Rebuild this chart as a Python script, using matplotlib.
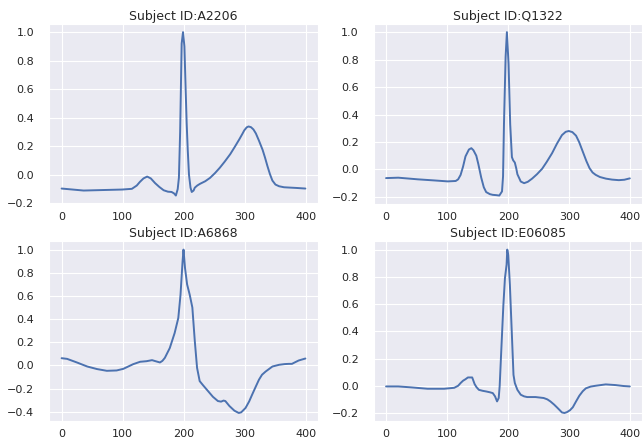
import matplotlib
matplotlib.use("Agg")
import matplotlib.pyplot as plt
import seaborn as sns

sns.set_style("darkgrid")
plt.rcParams['font.family'] = ['DejaVu Sans']

# one heartbeat per subject (sample index, amplitude)
a2206_x = [0, 36, 63, 99, 115, 123, 128, 134, 140, 146, 153, 160, 167, 174, 180, 184, 187,
           190, 192, 194, 196.5, 198.7, 201, 203, 204.7, 206.5, 208.5, 211, 213, 216, 218,
           222, 226.5, 235, 243, 251, 259, 267, 276, 284, 291, 296, 299, 303, 306, 310, 314,
           318, 323, 329, 333, 337, 341, 345, 350, 356, 364, 372, 385, 399]
a2206_y = [-0.096, -0.11, -0.107, -0.103, -0.098, -0.075, -0.05, -0.025, -0.012, -0.025, -0.058,
           -0.085, -0.108, -0.118, -0.12, -0.13, -0.145, -0.1, -0.02, 0.3, 0.92, 1.0, 0.9,
           0.6, 0.36, 0.17, 0.0, -0.09, -0.12, -0.11, -0.09, -0.075, -0.063, -0.045, -0.021,
           0.012, 0.05, 0.093, 0.145, 0.2, 0.25, 0.288, 0.312, 0.333, 0.339, 0.334, 0.318,
           0.29, 0.24, 0.175, 0.12, 0.06, 0.005, -0.04, -0.068, -0.08, -0.087, -0.089, -0.092,
           -0.096]

q1322_x = [0, 20, 52, 79, 101, 114, 118, 122, 126, 130, 135.6, 139.6, 143, 147.7, 151, 155.8,
           160, 163.9, 170, 174.7, 180, 185.4, 189.8, 191.5, 193, 195.7, 197.8, 200.5, 203.2,
           206, 208, 210.8, 213, 215, 220.5, 226, 232, 239, 247, 255.5, 263, 271.7, 280, 287.9,
           294, 299, 305, 311, 316, 322, 328, 333, 338, 343, 350, 360, 370, 381, 390, 399]
q1322_y = [-0.063, -0.06, -0.072, -0.08, -0.087, -0.084, -0.072, -0.04, 0.02, 0.095, 0.145,
           0.155, 0.14, 0.1, 0.04, -0.06, -0.13, -0.165, -0.18, -0.185, -0.187, -0.19, -0.16,
           -0.05, 0.33, 0.82, 1.0, 0.77, 0.33, 0.09, 0.067, 0.05, 0.01, -0.035, -0.088, -0.1,
           -0.09, -0.067, -0.035, 0.005, 0.055, 0.118, 0.19, 0.25, 0.274, 0.28, 0.272, 0.246,
           0.2, 0.13, 0.06, 0.01, -0.022, -0.039, -0.055, -0.067, -0.074, -0.078, -0.075,
           -0.065]

a6868_x = [0, 9, 25, 42, 58, 74, 90, 101, 117, 128.5, 139, 148, 155, 161, 165, 169, 177, 185,
           191, 194.6, 198, 199.5, 202, 205.4, 209.7, 214, 218, 221.7, 226, 231.4, 239.5,
           247.6, 255.8, 261, 265, 268, 274.7, 282.8, 290, 294, 301, 307, 312, 318, 323, 328,
           334, 345, 356, 365, 372, 377, 383, 388, 399]
a6868_y = [0.063, 0.057, 0.026, -0.009, -0.031, -0.046, -0.043, -0.029, 0.011, 0.032, 0.037,
           0.046, 0.035, 0.026, 0.04, 0.066, 0.15, 0.28, 0.41, 0.61, 0.9, 1.0, 0.84, 0.7, 0.61,
           0.5, 0.21, -0.02, -0.135, -0.17, -0.22, -0.27, -0.307, -0.312, -0.303, -0.307,
           -0.35, -0.39, -0.41, -0.404, -0.367, -0.31, -0.25, -0.18, -0.123, -0.08, -0.052,
           -0.009, 0.006, 0.012, 0.014, 0.014, 0.03, 0.043, 0.06]

e06085_x = [0, 20, 41.5, 68, 95, 111.6, 118, 122, 126, 130, 134, 141, 145, 148, 152, 158, 164,
            170, 174.7, 178.4, 181.7, 184.4, 186, 188, 192, 194.6, 197.3, 198.4, 200, 202.7,
            206, 208.6, 210.8, 215, 220.5, 226, 231, 244.7, 258, 264, 269, 275, 279.8, 284,
            287.9, 292, 296, 301, 305.7, 311, 316.4, 322, 327, 335, 343, 359.6, 375.7, 389, 399]
e06085_y = [-0.005, -0.005, -0.012, -0.022, -0.022, -0.015, 0.0, 0.02, 0.037, 0.048, 0.061,
            0.061, 0.012, -0.01, -0.03, -0.037, -0.042, -0.048, -0.054, -0.078, -0.115, -0.09,
            0.0, 0.2, 0.59, 0.79, 0.89, 1.0, 0.96, 0.74, 0.37, 0.08, 0.02, -0.03, -0.066,
            -0.078, -0.083, -0.083, -0.09, -0.1, -0.115, -0.138, -0.159, -0.178, -0.196, -0.2,
            -0.194, -0.18, -0.158, -0.115, -0.073, -0.04, -0.019, -0.006, 0.0, 0.01, 0.005,
            -0.002, -0.005]

subjects = ["A2206", "Q1322", "A6868", "E06085"]
xs = [a2206_x, q1322_x, a6868_x, e06085_x]
ys = [a2206_y, q1322_y, a6868_y, e06085_y]

fig, axes = plt.subplots(nrows=2, ncols=2, figsize=(6.42, 4.41), dpi=100)
fig.subplots_adjust(left=0.077, right=1.0, bottom=0.045, top=0.9456, wspace=0.21, hspace=0.21)

for ax, name, x, y in zip(axes.flat, subjects, xs, ys):
    ax.plot(x, y, color='#4c72b0', linewidth=1.4)
    ax.set_title("Subject ID:" + name, fontsize=9, color='#262626', pad=3)
    ax.set_xticks([0, 100, 200, 300, 400])
    ax.tick_params(axis='both', labelsize=8, colors='#262626', length=0)
    ax.tick_params(axis='y', pad=11)
    ax.tick_params(axis='x', pad=6)

fig.savefig("out.png", dpi=100)
